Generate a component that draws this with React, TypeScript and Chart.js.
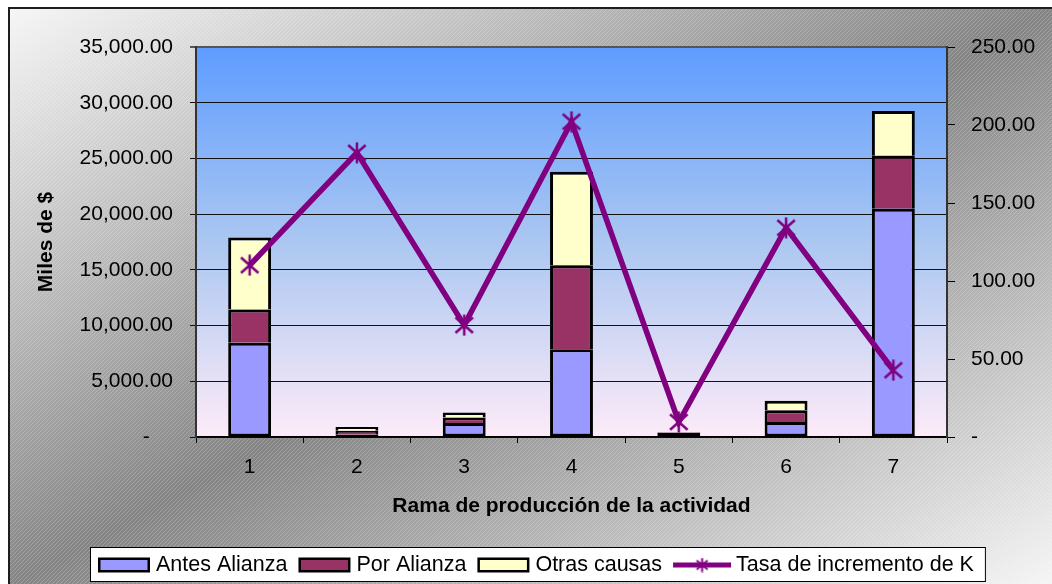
import { useEffect, useRef } from "react";
import { Chart, registerables } from "chart.js";

Chart.register(...registerables);

// Branch of activity (category axis)
const categories = ["1", "2", "3", "4", "5", "6", "7"];

// Stacked components, thousands of $
const antesAlianza = [8450, 200, 1250, 7880, 380, 1350, 20480];
const porAlianza = [3000, 350, 500, 7540, 40, 1050, 4760];
const otrasCausas = [6450, 350, 450, 8380, 30, 850, 4010];

// Capital growth rate (right axis)
const tasaIncremento = [110.1, 182.2, 71.7, 202.1, 9.6, 134.1, 42.8];

// Axis ranges
const leftAxisMax = 35000;
const leftAxisStep = 5000;
const rightAxisMax = 250;
const rightAxisStep = 50;

const seriesLabels = ["Antes Alianza", "Por Alianza", "Otras causas", "Tasa de incremento de K"];
const xTitle = "Rama de producción de la actividad";
const yTitle = "Miles de $";

const FONT = "'Liberation Sans', Arial, Helvetica, sans-serif";
const W = 1052;
const H = 584;

function fmt(v: number): string {
  if (v === 0) return "-    ";
  return v.toLocaleString("en-US", { minimumFractionDigits: 2, maximumFractionDigits: 2 });
}

function fmtRight(v: number): string {
  if (v === 0) return "-";
  return v.toLocaleString("en-US", { minimumFractionDigits: 2, maximumFractionDigits: 2 });
}

// Asterisk marker: an X with a vertical stroke
function makeAsterisk(size: number, lw: number, color: string): HTMLCanvasElement {
  const c = document.createElement("canvas");
  c.width = size;
  c.height = size;
  const g = c.getContext("2d")!;
  g.strokeStyle = color;
  g.lineWidth = lw;
  g.lineCap = "butt";
  const m = lw / 2 + 1;
  const h = size / 2;
  g.beginPath();
  g.moveTo(m, m + 1);
  g.lineTo(size - m, size - m - 1);
  g.moveTo(size - m, m + 1);
  g.lineTo(m, size - m - 1);
  g.moveTo(h, 0.5);
  g.lineTo(h, size - 0.5);
  g.stroke();
  return c;
}

function makeHatch(): HTMLCanvasElement {
  const c = document.createElement("canvas");
  c.width = 4;
  c.height = 4;
  const g = c.getContext("2d")!;
  g.fillStyle = "rgba(255,255,255,0.22)";
  for (let i = 0; i < 4; i++) g.fillRect(i, 3 - i, 1, 1);
  return c;
}

export default function App() {
  const ref = useRef<HTMLCanvasElement | null>(null);

  useEffect(() => {
    const canvas = ref.current;
    if (!canvas) return;

    const star = makeAsterisk(22, 2.5, "#800080");
    const legendStar = makeAsterisk(15, 2, "#800080");
    const hatch = makeHatch();

    const framePlugin = {
      id: "frameAndLegend",
      beforeDraw(chart: any) {
        const { ctx, chartArea: a } = chart;
        ctx.save();
        ctx.fillStyle = "#ffffff";
        ctx.fillRect(0, 0, W, H);

        // chart-area backdrop: diagonal light-dark-light gradient
        const fx = 8, fy = 7, fw = W - fx + 4, fh = H - fy + 4;
        ctx.save();
        ctx.transform(fw, 0, 0, fh, fx, fy);
        const g = ctx.createLinearGradient(0, 0, 1, 1);
        g.addColorStop(0, "#f6f6f6");
        g.addColorStop(0.5, "#848484");
        g.addColorStop(1, "#f6f6f6");
        ctx.fillStyle = g;
        ctx.fillRect(0, 0, 1, 1);
        ctx.restore();

        const pat = ctx.createPattern(hatch, "repeat");
        if (pat) {
          ctx.fillStyle = pat;
          ctx.fillRect(fx, fy, fw, fh);
        }

        ctx.strokeStyle = "#1e1e1e";
        ctx.lineWidth = 2;
        ctx.beginPath();
        ctx.moveTo(fx + 1, H + 2);
        ctx.lineTo(fx + 1, fy + 1);
        ctx.lineTo(W + 2, fy + 1);
        ctx.stroke();

        // plot area gradient
        const pg = ctx.createLinearGradient(0, a.top, 0, a.bottom);
        pg.addColorStop(0, "#5e9cff");
        pg.addColorStop(0.5, "#abc7f1");
        pg.addColorStop(1, "#fdebf8");
        ctx.fillStyle = pg;
        ctx.fillRect(a.left, a.top, a.right - a.left, a.bottom - a.top);
        ctx.restore();
      },
      afterDraw(chart: any) {
        const { ctx } = chart;
        const ds = chart.data.datasets;
        ctx.save();
        ctx.font = `21.5px ${FONT}`;
        ctx.textBaseline = "middle";
        ctx.textAlign = "left";

        const boxX = 90, boxY = 547, boxH = 35;
        const cy = boxY + boxH / 2 + 0.5;
        let x = 98;
        const items: { kind: string; x: number; tx: number; label: string; ds: any }[] = [];
        ds.forEach((d: any) => {
          const isLine = d.type === "line";
          const sw = isLine ? 58 : 52;
          const gap = isLine ? 5 : 6;
          const tx = x + sw + gap;
          items.push({ kind: isLine ? "line" : "box", x, tx, label: d.label, ds: d });
          x = tx + ctx.measureText(d.label).width + 11;
        });
        const boxR = x + 1;

        ctx.fillStyle = "#ffffff";
        ctx.fillRect(boxX, boxY, boxR - boxX, boxH);
        ctx.strokeStyle = "#000";
        ctx.lineWidth = 1;
        ctx.strokeRect(boxX + 0.5, boxY + 0.5, boxR - boxX - 1, boxH - 1);

        items.forEach((it) => {
          if (it.kind === "box") {
            ctx.fillStyle = "#000";
            ctx.fillRect(it.x, cy - 7.5, 52, 15);
            ctx.fillStyle = it.ds.backgroundColor;
            ctx.fillRect(it.x + 2.5, cy - 5, 47, 10);
          } else {
            ctx.strokeStyle = it.ds.borderColor;
            ctx.lineWidth = 5;
            ctx.beginPath();
            ctx.moveTo(it.x, cy);
            ctx.lineTo(it.x + 58, cy);
            ctx.stroke();
            ctx.drawImage(legendStar, it.x + 29 - 7.5, cy - 7.5);
          }
          ctx.fillStyle = "#000";
          ctx.fillText(it.label, it.tx, cy);
        });
        ctx.restore();
      },
    };

    const tickFont = { family: FONT, size: 21 };
    const titleFont = { family: FONT, size: 21, weight: "bold" as const };

    const barCommon = {
      type: "bar" as const,
      borderColor: "#000000",
      borderSkipped: false,
      stack: "k",
      yAxisID: "y",
      order: 1,
      barPercentage: 0.4,
      categoryPercentage: 1,
    };

    const chart = new Chart(canvas, {
      type: "bar",
      data: {
        labels: categories,
        datasets: [
          {
            ...barCommon,
            label: seriesLabels[0],
            data: antesAlianza,
            backgroundColor: "#9999ff",
            borderWidth: { top: 3, left: 3, right: 3, bottom: 3 },
          },
          {
            ...barCommon,
            label: seriesLabels[1],
            data: porAlianza,
            backgroundColor: "#993366",
            borderWidth: { top: 3, left: 3, right: 3, bottom: 0 },
          },
          {
            ...barCommon,
            label: seriesLabels[2],
            data: otrasCausas,
            backgroundColor: "#ffffcc",
            borderWidth: { top: 3, left: 3, right: 3, bottom: 0 },
          },
          {
            type: "line",
            label: seriesLabels[3],
            data: tasaIncremento,
            yAxisID: "y1",
            borderColor: "#800080",
            backgroundColor: "#800080",
            borderWidth: 5.5,
            tension: 0,
            pointStyle: star,
            pointRadius: 10,
            order: 0,
          },
        ] as any,
      },
      options: {
        animation: false,
        responsive: false,
        maintainAspectRatio: false,
        devicePixelRatio: 1,
        layout: { padding: { top: 47, left: 0, right: 0, bottom: 0 } },
        plugins: { legend: { display: false }, tooltip: { enabled: false } },
        scales: {
          x: {
            stacked: true,
            offset: true,
            grid: {
              display: true,
              drawOnChartArea: false,
              drawTicks: true,
              tickLength: 6,
              offset: true,
              color: "#000",
            },
            border: { display: true, color: "#000", width: 1.5 },
            ticks: { color: "#000", font: tickFont, padding: 12 },
            title: {
              display: true,
              text: xTitle,
              color: "#000",
              font: titleFont,
              padding: { top: 0, bottom: 65 },
            },
            afterFit: (s: any) => {
              s.height = H - 437;
            },
          },
          y: {
            stacked: true,
            position: "left",
            min: 0,
            max: leftAxisMax,
            grid: {
              color: (c: any) => (c.tick && c.tick.value === leftAxisMax ? "#555" : "#111"),
              lineWidth: (c: any) => (c.tick && c.tick.value === leftAxisMax ? 2 : 1),
              drawTicks: true,
              tickLength: 6,
            },
            border: { display: true, color: "#333", width: 2 },
            ticks: {
              stepSize: leftAxisStep,
              color: "#000",
              font: tickFont,
              padding: 17,
              callback: (v: any) => fmt(Number(v)),
            },
            title: {
              display: true,
              text: yTitle,
              color: "#000",
              font: titleFont,
              padding: { top: 34, bottom: 0 },
            },
            afterFit: (s: any) => {
              s.width = 196;
            },
          },
          y1: {
            position: "right",
            min: 0,
            max: rightAxisMax,
            grid: {
              drawOnChartArea: false,
              drawTicks: true,
              tickLength: 8,
              color: "#000",
            },
            border: { display: true, color: "#333", width: 2 },
            ticks: {
              stepSize: rightAxisStep,
              color: "#000",
              font: tickFont,
              padding: 16,
              callback: (v: any) => fmtRight(Number(v)),
            },
            afterFit: (s: any) => {
              s.width = W - 947;
            },
          },
        },
      } as any,
      plugins: [framePlugin],
    });

    return () => chart.destroy();
  }, []);

  return (
    <div style={{ position: "fixed", left: 0, top: 0, width: W, height: H }}>
      <canvas ref={ref} width={W} height={H} style={{ display: "block", width: W, height: H }} />
    </div>
  );
}
